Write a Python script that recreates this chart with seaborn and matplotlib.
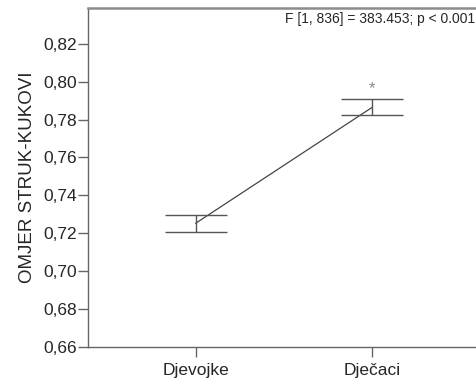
import matplotlib
matplotlib.use("Agg")
import matplotlib.pyplot as plt
import seaborn as sns
import pandas as pd
from matplotlib.ticker import FuncFormatter

# values
groups = ["Djevojke", "Dječaci"]
means = [0.7252, 0.7866]
ci_low = [0.7206, 0.7823]
ci_high = [0.7295, 0.7908]
stat_text = "F [1, 836] = 383.453; p < 0.001"

df = pd.DataFrame({"spol": groups, "mean": means})

sns.set_style("white")
plt.rcParams['font.family'] = ['Liberation Sans', 'DejaVu Sans']

fig = plt.figure(figsize=(4.76, 3.82), dpi=100)
ax = fig.add_axes([0.1849, 0.0924, 0.828, 0.8866])

sns.pointplot(data=df, x="spol", y="mean", errorbar=None, markers="",
              color="#444444", linewidth=0.9, ax=ax)

yerr = [[m - lo for m, lo in zip(means, ci_low)],
        [hi - m for m, hi in zip(means, ci_high)]]
ax.errorbar(range(len(groups)), means, yerr=yerr, fmt="none",
            ecolor="#555555", elinewidth=1.0, capsize=22, capthick=1.0)

# significance star above boys
ax.text(1, ci_high[1] + 0.0055, "*", ha="center", va="center",
        fontsize=12, color="#8a8a8a")

ax.text(1.578, 0.8332, stat_text, ha="right", va="center", fontsize=10)

ax.set_xlim(-0.608, 1.62)
ax.set_ylim(0.66, 0.839)
ax.set_yticks([0.66, 0.68, 0.70, 0.72, 0.74, 0.76, 0.78, 0.80, 0.82])
ax.yaxis.set_major_formatter(FuncFormatter(lambda v, p: f"{v:.2f}".replace(".", ",")))
ax.set_xlabel("")
ax.set_ylabel("OMJER STRUK-KUKOVI", fontsize=13.5, labelpad=5)

for s in ["left", "bottom"]:
    ax.spines[s].set_color("#666666")
    ax.spines[s].set_linewidth(1.0)
ax.spines["top"].set_color("#8c8c8c")
ax.spines["top"].set_linewidth(1.8)
ax.spines["right"].set_visible(False)

ax.tick_params(axis="both", which="both", direction="out", length=7, width=1,
               color="#666666", labelsize=12.5, pad=1, left=True, bottom=True)
ax.tick_params(axis="x", pad=5)

fig.savefig("out.png", dpi=100)
